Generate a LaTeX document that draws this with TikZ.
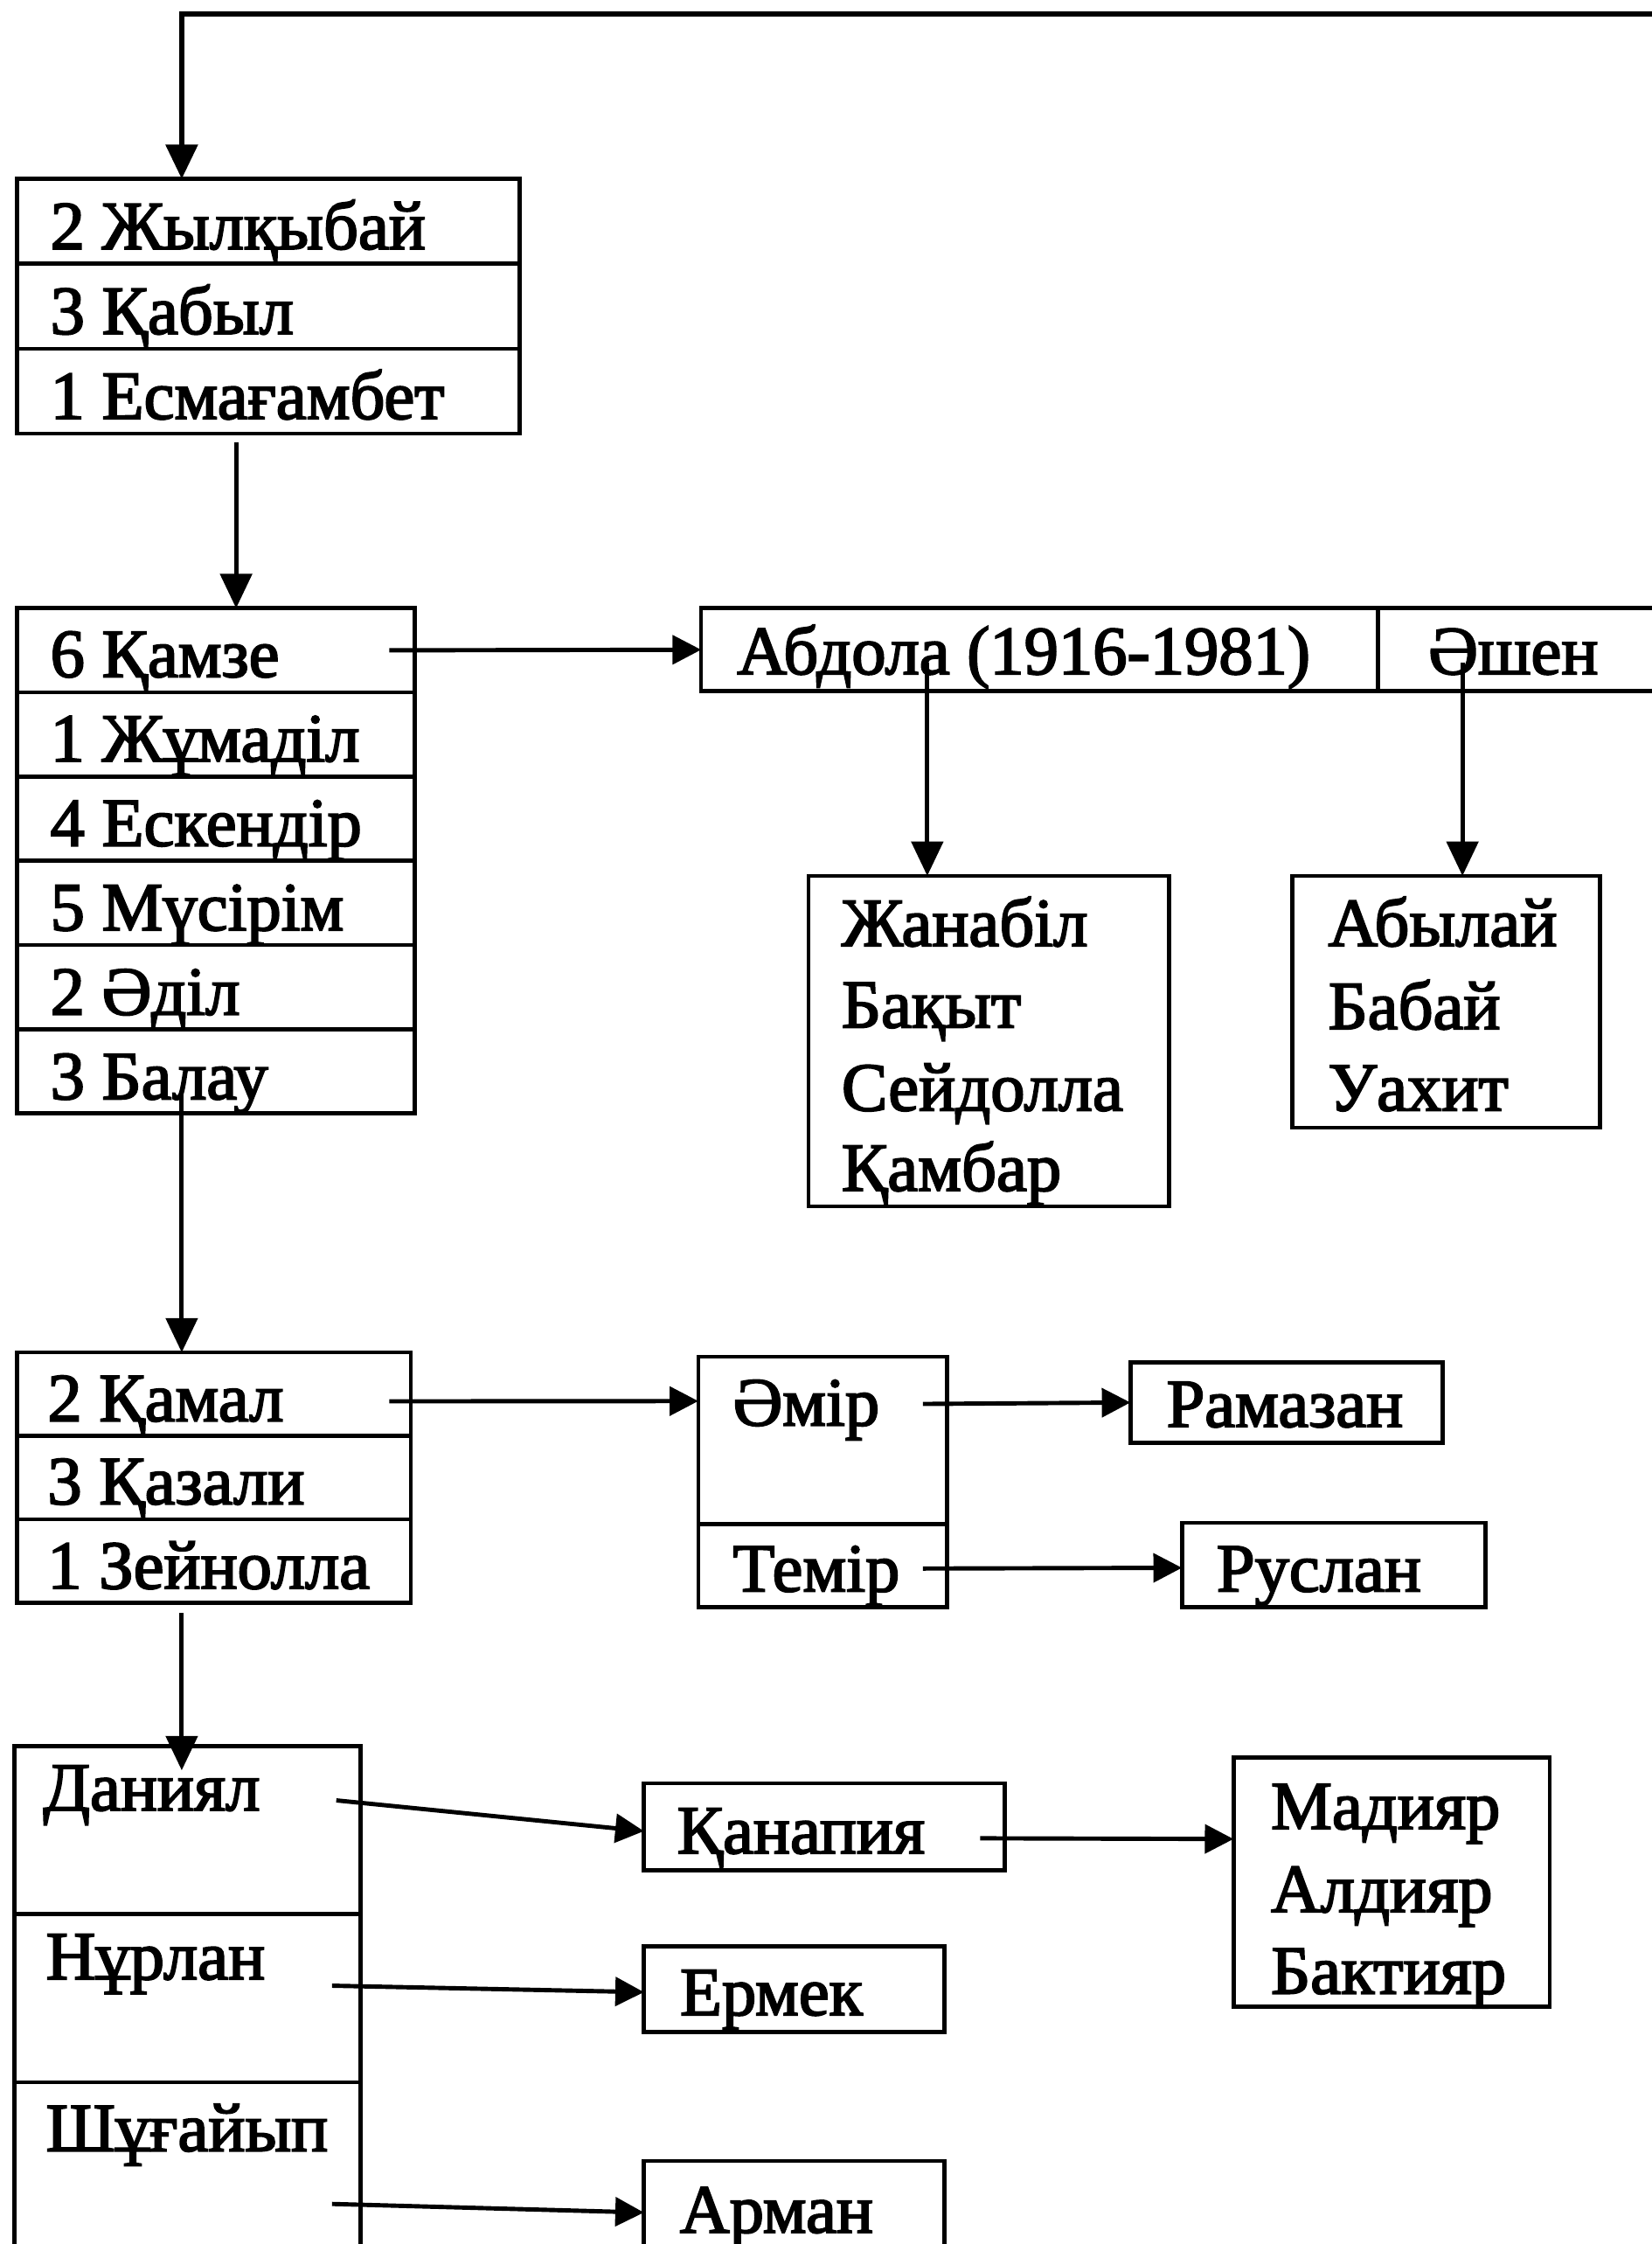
\documentclass[tikz,border=0pt]{standalone}
\usepackage{fontspec}
\setmainfont{Liberation Serif}
\newfontfamily\heavy{Liberation Serif}[FakeBold=2.5]
\usetikzlibrary{arrows.meta,calc}
\begin{document}
\begin{tikzpicture}[x={(1pt,0pt)}, y={(0pt,-1pt)},
  box/.style={draw, line width=2.8pt, rectangle, anchor=north west, inner sep=0pt, outer sep=0pt},
  lbl/.style={anchor=base west, inner sep=0pt, font=\heavy\fontsize{48}{57}\selectfont},
  arr/.style={line width=3pt, -{Triangle[length=24pt,width=22pt]}},
  harr/.style={line width=3pt, -{Triangle[length=20pt,width=20pt]}}
]
\useasboundingbox (0,0) rectangle (1154,1568);

% ---------- box 1
\node[box, minimum width=351pt, minimum height=59.33pt] (b1r1) at (12,125) {};
\node[box, minimum width=351pt, minimum height=59.33pt] (b1r2) at (12,184.33) {};
\node[box, minimum width=351pt, minimum height=59.33pt] (b1r3) at (12,243.67) {};
\node[lbl] (t11) at (35,174) {2 Жылқыбай};
\node[lbl] (t12) at (35,233.3) {3 Қабыл};
\node[lbl] (t13) at (35,292.7) {1 Есмағамбет};

% ---------- box 2
\node[box, minimum width=278pt, minimum height=58.83pt] (b2r1) at (12,425) {};
\node[box, minimum width=278pt, minimum height=58.83pt] (b2r2) at (12,483.83) {};
\node[box, minimum width=278pt, minimum height=58.83pt] (b2r3) at (12,542.67) {};
\node[box, minimum width=278pt, minimum height=58.83pt] (b2r4) at (12,601.5) {};
\node[box, minimum width=278pt, minimum height=58.83pt] (b2r5) at (12,660.33) {};
\node[box, minimum width=278pt, minimum height=58.83pt] (b2r6) at (12,719.17) {};
\node[lbl] (t21) at (35,473) {6 Қамзе};
\node[lbl] (t22) at (35,532) {1 Жұмаділ};
\node[lbl] (t23) at (35,591) {4 Ескендір};
\node[lbl] (t24) at (35,650) {5 Мүсірім};
\node[lbl] (t25) at (35,709) {2 Әділ};
\node[lbl] (t26) at (35,768) {3 Балау};

% ---------- Abdola / Ashen
\node[box, minimum width=473pt, minimum height=58pt] (abd) at (490,425) {};
\node[box, minimum width=197pt, minimum height=58pt] (ash) at (963,425) {};
\node[lbl] (tabd) at (515,471) {Абдола (1916-1981)};
\node[lbl] (tash) at (998,471) {Әшен};

\node[box, minimum width=252pt, minimum height=231pt] (jan) at (565,612) {};
\node[lbl] (tj1) at (588,661) {Жанабіл};
\node[lbl] (tj2) at (588,718) {Бақыт};
\node[lbl] (tj3) at (588,776) {Сейдолла};
\node[lbl] (tj4) at (588,832) {Қамбар};

\node[box, minimum width=215pt, minimum height=176pt] (aby) at (903,612) {};
\node[lbl] (ta1) at (928,661) {Абылай};
\node[lbl] (ta2) at (928,719) {Бабай};
\node[lbl] (ta3) at (928,776) {Уахит};

% ---------- box 3
\node[box, minimum width=275pt, minimum height=58.33pt] (b3r1) at (12,945) {};
\node[box, minimum width=275pt, minimum height=58.33pt] (b3r2) at (12,1003.33) {};
\node[box, minimum width=275pt, minimum height=58.33pt] (b3r3) at (12,1061.67) {};
\node[lbl] (t31) at (33,993) {2 Қамал};
\node[lbl] (t32) at (33,1051) {3 Қазали};
\node[lbl] (t33) at (33,1110) {1 Зейнолла};

\node[box, minimum width=174pt, minimum height=117pt] (amir) at (488,948) {};
\node[box, minimum width=174pt, minimum height=58pt] (tem) at (488,1065) {};
\node[lbl] (tamir) at (512,996) {Әмір};
\node[lbl] (ttem) at (512,1112) {Темір};

\node[box, minimum width=218pt, minimum height=56pt] (ram) at (790,952) {};
\node[lbl] (tram) at (815,997) {Рамазан};
\node[box, minimum width=212pt, minimum height=59pt] (rus) at (826,1064) {};
\node[lbl] (trus) at (850,1112) {Руслан};

% ---------- box 4
\node[box, minimum width=242pt, minimum height=117.5pt] (b4r1) at (10,1220) {};
\node[box, minimum width=242pt, minimum height=117.5pt] (b4r2) at (10,1337.5) {};
\node[box, minimum width=242pt, minimum height=117.5pt] (b4r3) at (10,1455) {};
\node[lbl] (t41) at (30,1265) {Даниял};
\node[lbl] (t42) at (32,1383) {Нұрлан};
\node[lbl] (t43) at (32,1503) {Шұғайып};

\node[box, minimum width=252pt, minimum height=61pt] (qan) at (450,1246) {};
\node[lbl] (tqan) at (473,1295) {Қанапия};
\node[box, minimum width=221pt, minimum height=174pt] (mad) at (862,1228) {};
\node[lbl] (tm1) at (888,1278) {Мадияр};
\node[lbl] (tm2) at (888,1336) {Алдияр};
\node[lbl] (tm3) at (888,1393) {Бактияр};
\node[box, minimum width=210pt, minimum height=60pt] (erm) at (450,1360) {};
\node[lbl] (term) at (475,1408) {Ермек};
\node[box, minimum width=210pt, minimum height=80pt] (arm) at (450,1510) {};
\node[lbl] (tarm) at (475,1560) {Арман};

% ---------- connectors
\coordinate (topR) at (1160,10);
\draw[arr, line width=3.6pt] (topR) -| ($(b1r1.north west)+(115,0)$);
\draw[arr] ($(b1r3.south west)+(153,6)$) -- ($(b2r1.north west)+(153,0)$);
\draw[harr] ($(b2r1.east)+(-18,0)$) -- (abd.west);
\draw[arr] ($(abd.north west)+(158,38)$) -- ($(jan.north west)+(83,0)$);
\draw[arr] ($(ash.north west)+(59,38)$) -- ($(aby.north west)+(119,0)$);
\draw[arr] ($(b2r6.south west)+(115,-13)$) -- ($(b3r1.north west)+(115,0)$);
\draw[harr] ($(b3r1.east)+(-15,5)$) -- ($(amir.north west)+(0,31)$);
\draw[harr] ($(amir.north east)+(-17,33)$) -- (ram.west);
\draw[harr] ($(tem.east)+(-17,2)$) -- ($(rus.west)+(0,2)$);
\draw[arr] ($(b3r3.south west)+(115,7)$) -- ($(b4r1.north west)+(117,17)$);
\draw[harr] ($(b4r1.north west)+(225,38)$) -- ($(qan.west)+(0,3)$);
\draw[harr] ($(qan.east)+(-17,8)$) -- ($(mad.north west)+(0,57)$);
\draw[harr] ($(b4r2.north west)+(222,50)$) -- ($(erm.west)+(0,2)$);
\draw[harr] ($(b4r3.north west)+(222,85)$) -- ($(arm.north west)+(0,36)$);
\end{tikzpicture}
\end{document}
